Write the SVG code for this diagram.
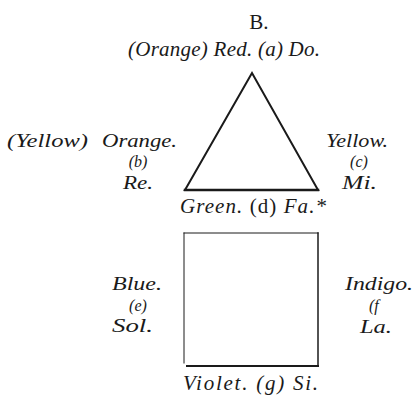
<svg xmlns="http://www.w3.org/2000/svg" width="416" height="397" viewBox="0 0 416 397">
<style>
text{font-family:"Liberation Serif","Times New Roman",serif;font-size:21px;fill:#1a1a1a;font-style:italic}
.st{font-size:19px}
.up{font-style:normal}
.sm{font-size:16px}
.c{text-anchor:middle}
.r{text-anchor:end}
.ln{fill:none;stroke:#1a1a1a;stroke-linecap:square}
</style>
<rect width="416" height="397" fill="#fff"/>
<text id="title" class="up c" x="259" y="29">B.</text>
<g id="connectors">
<path id="triangle" class="ln" d="M252,73 L185,190 L318,190 Z" stroke-width="2"/>
<path class="ln" d="M185,190 L318,190" stroke-width="2.5"/>
<path class="ln" d="M184,233 L318,233" stroke-width="1" stroke="#555"/>
<path class="ln" d="M184,233 L184,363" stroke-width="1" stroke="#555"/>
<path class="ln" d="M318,233 L318,366" stroke-width="1.5"/>
<path class="ln" d="M187,366 L318,366" stroke-width="2"/>
</g>
<g id="a"><text x="128" y="56" textLength="192">(Orange) Red. (a) Do.</text></g>
<g id="b">
<text class="st" x="7" y="147" textLength="81" lengthAdjust="spacingAndGlyphs">(Yellow)</text>
<text class="st" x="102" y="147" textLength="75" lengthAdjust="spacingAndGlyphs">Orange.</text>
<text class="c sm" x="138" y="167">(b)</text>
<text class="st" x="123" y="189" textLength="30" lengthAdjust="spacingAndGlyphs">Re.</text>
</g>
<g id="c">
<text class="st" x="326" y="147" textLength="62" lengthAdjust="spacingAndGlyphs">Yellow.</text>
<text class="c sm" x="359" y="167">(c)</text>
<text class="st" x="342" y="189" textLength="35" lengthAdjust="spacingAndGlyphs">Mi.</text>
</g>
<g id="d"><text x="180" y="213" textLength="146">Green. <tspan class="up">(d)</tspan> Fa.*</text></g>
<g id="e">
<text class="st" x="112" y="290" textLength="50" lengthAdjust="spacingAndGlyphs">Blue.</text>
<text class="c sm" x="138" y="311">(e)</text>
<text class="st" x="112" y="332" textLength="41" lengthAdjust="spacingAndGlyphs">Sol.</text>
</g>
<g id="f">
<text class="st" x="345" y="290" textLength="68" lengthAdjust="spacingAndGlyphs">Indigo.</text>
<text class="sm" x="369" y="311">(f</text>
<text class="st" x="360" y="333" textLength="32" lengthAdjust="spacingAndGlyphs">La.</text>
</g>
<g id="g"><text x="183" y="390" textLength="135">Violet. (g) Si.</text></g>
</svg>
